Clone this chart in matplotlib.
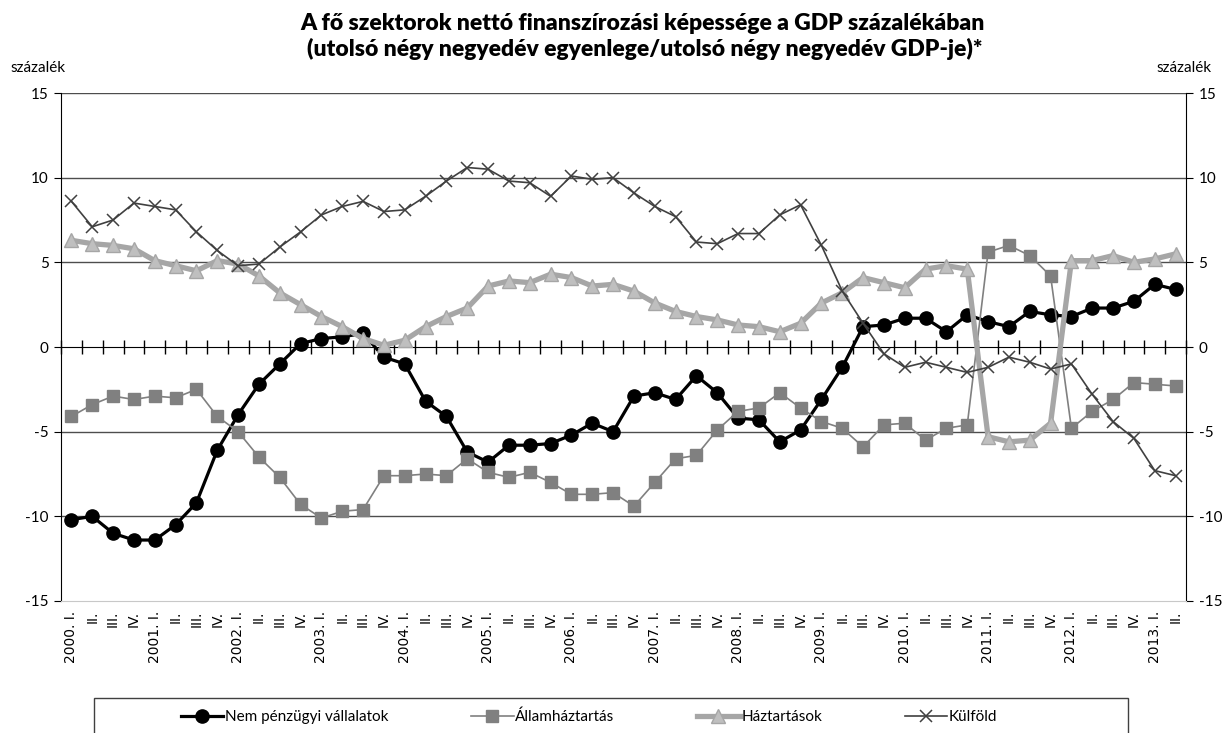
import numpy as np
import matplotlib.pyplot as plt
from matplotlib.patches import Rectangle

years = list(range(2000, 2014))
quarters = ["I.", "II.", "III.", "IV."]
labels = []
for y in years:
    for q in quarters:
        labels.append(f"{y}. {q}" if q == "I." else q)
labels = labels[:54]

nem_penzugyi = [-10.2, -10.0, -11.0, -11.4, -11.4, -10.5, -9.2, -6.1, -4.0, -2.2, -1.0, 0.2,
                0.5, 0.6, 0.8, -0.6, -1.0, -3.2, -4.1, -6.2, -6.8, -5.8, -5.8, -5.7,
                -5.2, -4.5, -5.0, -2.9, -2.7, -3.1, -1.7, -2.7, -4.2, -4.3, -5.6, -4.9,
                -3.1, -1.2, 1.2, 1.3, 1.7, 1.7, 0.9, 1.9, 1.5, 1.2, 2.1, 1.9,
                1.8, 2.3, 2.3, 2.7, 3.7, 3.4]
allamhaztartas = [-4.1, -3.4, -2.9, -3.1, -2.9, -3.0, -2.5, -4.1, -5.0, -6.5, -7.7, -9.3,
                  -10.1, -9.7, -9.6, -7.6, -7.6, -7.5, -7.6, -6.6, -7.4, -7.7, -7.4, -8.0,
                  -8.7, -8.7, -8.6, -9.4, -8.0, -6.6, -6.4, -4.9, -3.8, -3.6, -2.7, -3.6,
                  -4.4, -4.8, -5.9, -4.6, -4.5, -5.5, -4.8, -4.6, 5.6, 6.0, 5.4, 4.2,
                  -4.8, -3.8, -3.1, -2.1, -2.2, -2.3]
haztartasok = [6.3, 6.1, 6.0, 5.8, 5.1, 4.8, 4.5, 5.1, 4.9, 4.2, 3.2, 2.5,
               1.8, 1.2, 0.5, 0.1, 0.4, 1.2, 1.8, 2.3, 3.6, 3.9, 3.8, 4.3,
               4.1, 3.6, 3.7, 3.3, 2.6, 2.1, 1.8, 1.6, 1.3, 1.2, 0.9, 1.4,
               2.6, 3.2, 4.1, 3.8, 3.5, 4.6, 4.8, 4.6, -5.3, -5.6, -5.5, -4.5,
               5.1, 5.1, 5.4, 5.0, 5.2, 5.5]
kulfold = [8.6, 7.1, 7.5, 8.5, 8.3, 8.1, 6.8, 5.7, 4.8, 4.9, 5.9, 6.8,
           7.8, 8.3, 8.6, 8.0, 8.1, 8.9, 9.8, 10.6, 10.5, 9.8, 9.7, 8.9,
           10.1, 9.9, 10.0, 9.1, 8.3, 7.7, 6.2, 6.1, 6.7, 6.7, 7.8, 8.4,
           6.0, 3.3, 1.4, -0.4, -1.2, -0.9, -1.2, -1.5, -1.2, -0.6, -0.9, -1.3,
           -1.0, -2.8, -4.4, -5.4, -7.3, -7.6]

plt.rcParams['font.family'] = ['Lato', 'DejaVu Sans']
plt.rcParams['axes.unicode_minus'] = False

x = np.arange(len(labels))

fig = plt.figure(figsize=(12.22, 7.33), dpi=100)
ax = fig.add_axes([61 / 1222, 1 - 601 / 733, 1125 / 1222, 508 / 733])

ax.plot(x, nem_penzugyi, color='black', lw=2.3, marker='o', ms=9.5,
        label='Nem pénzügyi vállalatok', zorder=3)
ax.plot(x, allamhaztartas, color='#808080', lw=1.2, marker='s', ms=8,
        label='Államháztartás', zorder=4)
ax.plot(x, haztartasok, color='#A6A6A6', lw=3.8, marker='^', ms=9.5,
        mfc='#BFBFBF', mec='#A6A6A6', label='Háztartások', zorder=5)
ax.plot(x, kulfold, color='#404040', lw=1.2, marker='x', ms=9, mew=1.1,
        label='Külföld', zorder=6)

ax.set_xlim(-0.5, len(labels) - 0.5)
ax.set_ylim(-15, 15)
ax.set_yticks(np.arange(-15, 16, 5))
for yv in [-10, -5, 5, 10, 15]:
    ax.axhline(yv, color='#4d4d4d', lw=1.0, zorder=1)

ax.tick_params(axis='y', left=True, right=True, labelleft=True, labelright=True,
               direction='out', length=5, pad=4, labelsize=11, colors='black')
ax.set_xticks(x)
ax.set_xticklabels(labels, rotation=90, fontsize=10, family='DejaVu Sans')
ax.tick_params(axis='x', length=0, pad=7)

ax.spines['top'].set_visible(False)
ax.spines['bottom'].set_color('#C8C8C8')
ax.spines['left'].set_color('black')
ax.spines['right'].set_color('black')

# category axis crossing at zero
sec = ax.secondary_xaxis(0.5)
sec.set_xticks(np.arange(-0.5, len(labels), 1.0))
sec.set_xticklabels([])
sec.tick_params(axis='x', direction='inout', length=10, width=1)
sec.spines['bottom'].set_color('black')
sec.spines['bottom'].set_linewidth(1.2)

fig.text(0.526, 0.968, 'A fő szektorok nettó finanszírozási képessége a GDP százalékában',
         ha='center', va='center', fontsize=16.5, fontweight='heavy')
fig.text(0.528, 0.933, '(utolsó négy negyedév egyenlege/utolsó négy negyedév GDP-je)*',
         ha='center', va='center', fontsize=16.5, fontweight='heavy')
fig.text(10 / 1222, 1 - 68 / 733, 'százalék', ha='left', va='center', fontsize=11)
fig.text(1212 / 1222, 1 - 68 / 733, 'százalék', ha='right', va='center', fontsize=11)

fig.patches.append(Rectangle((94 / 1222, -0.02), 1034 / 1222, 0.02 + 35 / 733,
                             transform=fig.transFigure, fill=False,
                             edgecolor='#404040', lw=1.0))
fig.legend(loc='center', bbox_to_anchor=(0.482, 1 - 717 / 733), ncol=4,
           frameon=False, fontsize=11, handlelength=2.8, columnspacing=5.4,
           handletextpad=0.1)

fig.savefig('out.png', dpi=100)
